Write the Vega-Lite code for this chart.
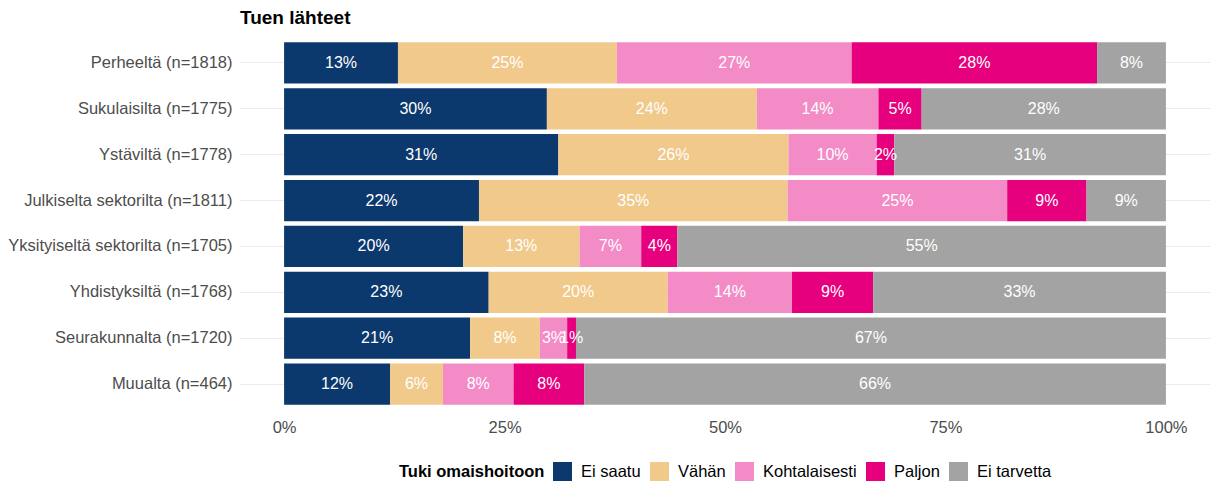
{
  "$schema": "https://vega.github.io/schema/vega-lite/v6.json",
  "autosize": {"type": "none"},
  "padding": {"left": 240, "top": 40, "right": 4, "bottom": 76},
  "width": 970,
  "height": 367,
  "config": {
    "font": "Liberation Sans",
    "view": {"stroke": null},
    "title": {"anchor": "start", "frame": "group", "fontSize": 19, "fontWeight": "bold", "color": "#000000", "offset": 12},
    "legend": {"layout": {"bottom": {"anchor": "middle"}}}
  },
  "title": "Tuen lähteet",
  "data": {"values": [
    {"source": "Perheeltä (n=1818)", "resp": "Ei saatu", "k": 1, "pct": 0.129},
    {"source": "Perheeltä (n=1818)", "resp": "Vähän", "k": 2, "pct": 0.248},
    {"source": "Perheeltä (n=1818)", "resp": "Kohtalaisesti", "k": 3, "pct": 0.266},
    {"source": "Perheeltä (n=1818)", "resp": "Paljon", "k": 4, "pct": 0.278},
    {"source": "Perheeltä (n=1818)", "resp": "Ei tarvetta", "k": 5, "pct": 0.078},
    {"source": "Sukulaisilta (n=1775)", "resp": "Ei saatu", "k": 1, "pct": 0.298},
    {"source": "Sukulaisilta (n=1775)", "resp": "Vähän", "k": 2, "pct": 0.238},
    {"source": "Sukulaisilta (n=1775)", "resp": "Kohtalaisesti", "k": 3, "pct": 0.138},
    {"source": "Sukulaisilta (n=1775)", "resp": "Paljon", "k": 4, "pct": 0.049},
    {"source": "Sukulaisilta (n=1775)", "resp": "Ei tarvetta", "k": 5, "pct": 0.277},
    {"source": "Ystäviltä (n=1778)", "resp": "Ei saatu", "k": 1, "pct": 0.311},
    {"source": "Ystäviltä (n=1778)", "resp": "Vähän", "k": 2, "pct": 0.261},
    {"source": "Ystäviltä (n=1778)", "resp": "Kohtalaisesti", "k": 3, "pct": 0.100},
    {"source": "Ystäviltä (n=1778)", "resp": "Paljon", "k": 4, "pct": 0.020},
    {"source": "Ystäviltä (n=1778)", "resp": "Ei tarvetta", "k": 5, "pct": 0.308},
    {"source": "Julkiselta sektorilta (n=1811)", "resp": "Ei saatu", "k": 1, "pct": 0.221},
    {"source": "Julkiselta sektorilta (n=1811)", "resp": "Vähän", "k": 2, "pct": 0.350},
    {"source": "Julkiselta sektorilta (n=1811)", "resp": "Kohtalaisesti", "k": 3, "pct": 0.249},
    {"source": "Julkiselta sektorilta (n=1811)", "resp": "Paljon", "k": 4, "pct": 0.090},
    {"source": "Julkiselta sektorilta (n=1811)", "resp": "Ei tarvetta", "k": 5, "pct": 0.090},
    {"source": "Yksityiseltä sektorilta (n=1705)", "resp": "Ei saatu", "k": 1, "pct": 0.203},
    {"source": "Yksityiseltä sektorilta (n=1705)", "resp": "Vähän", "k": 2, "pct": 0.132},
    {"source": "Yksityiseltä sektorilta (n=1705)", "resp": "Kohtalaisesti", "k": 3, "pct": 0.070},
    {"source": "Yksityiseltä sektorilta (n=1705)", "resp": "Paljon", "k": 4, "pct": 0.041},
    {"source": "Yksityiseltä sektorilta (n=1705)", "resp": "Ei tarvetta", "k": 5, "pct": 0.554},
    {"source": "Yhdistyksiltä (n=1768)", "resp": "Ei saatu", "k": 1, "pct": 0.232},
    {"source": "Yhdistyksiltä (n=1768)", "resp": "Vähän", "k": 2, "pct": 0.203},
    {"source": "Yhdistyksiltä (n=1768)", "resp": "Kohtalaisesti", "k": 3, "pct": 0.141},
    {"source": "Yhdistyksiltä (n=1768)", "resp": "Paljon", "k": 4, "pct": 0.092},
    {"source": "Yhdistyksiltä (n=1768)", "resp": "Ei tarvetta", "k": 5, "pct": 0.332},
    {"source": "Seurakunnalta (n=1720)", "resp": "Ei saatu", "k": 1, "pct": 0.211},
    {"source": "Seurakunnalta (n=1720)", "resp": "Vähän", "k": 2, "pct": 0.079},
    {"source": "Seurakunnalta (n=1720)", "resp": "Kohtalaisesti", "k": 3, "pct": 0.031},
    {"source": "Seurakunnalta (n=1720)", "resp": "Paljon", "k": 4, "pct": 0.010},
    {"source": "Seurakunnalta (n=1720)", "resp": "Ei tarvetta", "k": 5, "pct": 0.669},
    {"source": "Muualta (n=464)", "resp": "Ei saatu", "k": 1, "pct": 0.120},
    {"source": "Muualta (n=464)", "resp": "Vähän", "k": 2, "pct": 0.060},
    {"source": "Muualta (n=464)", "resp": "Kohtalaisesti", "k": 3, "pct": 0.080},
    {"source": "Muualta (n=464)", "resp": "Paljon", "k": 4, "pct": 0.080},
    {"source": "Muualta (n=464)", "resp": "Ei tarvetta", "k": 5, "pct": 0.659}
  ]},
  "transform": [
    {"stack": "pct", "groupby": ["source"], "sort": [{"field": "k", "order": "ascending"}], "offset": "normalize", "as": ["s0", "s1"]},
    {"calculate": "(datum.s0 + datum.s1) / 2", "as": "mid"}
  ],
  "encoding": {
    "y": {
      "field": "source", "type": "nominal", "sort": null,
      "scale": {"paddingInner": 0.1, "paddingOuter": 0.05},
      "axis": {"title": null, "domain": false, "ticks": false, "labelFontSize": 16.5, "labelColor": "#4d4d4d", "labelPadding": 8, "labelLimit": 400, "grid": true, "gridColor": "#ebebeb", "bandPosition": 0.5}
    }
  },
  "layer": [
    {
      "mark": {"type": "bar"},
      "encoding": {
        "x": {
          "field": "s0", "type": "quantitative",
          "scale": {"domain": [-0.05, 1.05], "nice": false, "zero": false},
          "axis": {"title": null, "format": ".0%", "values": [0, 0.25, 0.5, 0.75, 1], "grid": false, "domain": false, "ticks": false, "labelFontSize": 16.5, "labelColor": "#4d4d4d", "labelPadding": 12}
        },
        "x2": {"field": "s1"},
        "color": {
          "field": "resp", "type": "nominal",
          "scale": {"domain": ["Ei saatu", "Vähän", "Kohtalaisesti", "Paljon", "Ei tarvetta"], "range": ["#0b386d", "#f1c98a", "#f28bc6", "#e6007e", "#a3a3a3"]},
          "legend": {"title": "Tuki omaishoitoon", "orient": "bottom", "direction": "horizontal", "titleOrient": "left", "symbolType": "square", "symbolSize": 361, "symbolStrokeWidth": 0, "labelFontSize": 16.5, "titleFontSize": 16.5, "titleFontWeight": "bold", "titleColor": "#000000", "labelColor": "#000000", "labelOffset": 9, "columnPadding": 9, "titlePadding": 8, "offset": 26}
        }
      }
    },
    {
      "mark": {"type": "text", "color": "#ffffff", "fontSize": 16},
      "encoding": {
        "x": {"field": "mid", "type": "quantitative"},
        "text": {"field": "pct", "type": "quantitative", "format": ".0%"}
      }
    }
  ]
}
